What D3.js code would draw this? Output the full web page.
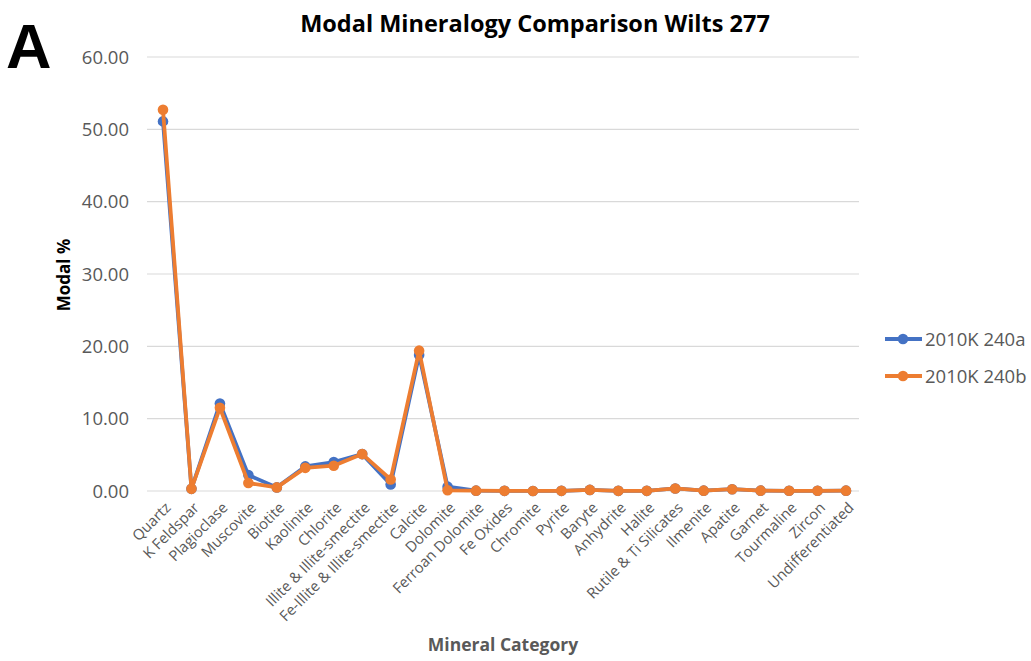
<!DOCTYPE html>
<html>
<head>
<meta charset="utf-8">
<script src="https://cdn.jsdelivr.net/npm/d3@7"></script>
<style>
  html, body { margin: 0; padding: 0; background: #fff; }
  svg { display: block; }
</style>
</head>
<body>
<svg id="chart" width="1031" height="661"></svg>
<script>
const categories = [
  "Quartz", "K Feldspar", "Plagioclase", "Muscovite", "Biotite", "Kaolinite",
  "Chlorite", "Illite & Illite-smectite", "Fe-Illite & Illite-smectite", "Calcite",
  "Dolomite", "Ferroan Dolomite", "Fe Oxides", "Chromite", "Pyrite", "Baryte",
  "Anhydrite", "Halite", "Rutile & Ti Silicates", "Ilmenite", "Apatite", "Garnet",
  "Tourmaline", "Zircon", "Undifferentiated"
];
const sample240a = [51.1, 0.3, 12.1, 2.2, 0.5, 3.4, 4.0, 5.1, 0.9, 18.8,
  0.6, 0.05, 0.02, 0.01, 0.02, 0.15, 0.02, 0.02, 0.35, 0.05, 0.25, 0.05, 0.03, 0.03, 0.05];
const sample240b = [52.7, 0.3, 11.5, 1.1, 0.5, 3.2, 3.5, 5.1, 1.6, 19.4,
  0.1, 0.05, 0.02, 0.01, 0.02, 0.15, 0.02, 0.02, 0.35, 0.05, 0.25, 0.05, 0.03, 0.03, 0.05];
const yTicks = [0, 10, 20, 30, 40, 50, 60];
const seriesNames = ["2010K 240a", "2010K 240b"];
const seriesColors = ["#4472C4", "#ED7D31"];

const svg = d3.select("#chart");
const font = "'Open Sans', 'DejaVu Sans', sans-serif";

const x = d3.scalePoint().domain(categories).range([163, 846]);
const y = d3.scaleLinear().domain([0, 60]).range([491, 57]);

// gridlines
svg.append("g").selectAll("line").data(yTicks).join("line")
  .attr("x1", 147).attr("x2", 859)
  .attr("y1", d => y(d)).attr("y2", d => y(d))
  .attr("stroke", "#d9d9d9").attr("stroke-width", 1.2);

// y axis labels
svg.append("g").selectAll("text").data(yTicks).join("text")
  .attr("x", 129).attr("y", d => y(d)).attr("dy", "0.36em")
  .attr("text-anchor", "end")
  .attr("font-family", font).attr("font-size", 18.5).attr("fill", "#595959")
  .text(d => d3.format(".2f")(d));

// x axis labels, rotated
svg.append("g").selectAll("text").data(categories).join("text")
  .attr("transform", d => `translate(${x(d) + 5},${505}) rotate(-45)`)
  .attr("text-anchor", "end").attr("dy", "0.35em")
  .attr("font-family", font).attr("font-size", 14.8).attr("fill", "#595959")
  .text(d => d);

// series
const series = [sample240a, sample240b];
const line = d3.line().x((d, i) => x(categories[i])).y(d => y(d));
series.forEach((vals, s) => {
  const g = svg.append("g");
  g.append("path").datum(vals)
    .attr("d", line).attr("fill", "none")
    .attr("stroke", seriesColors[s]).attr("stroke-width", 3.8)
    .attr("stroke-linejoin", "round");
  g.selectAll("circle").data(vals).join("circle")
    .attr("cx", (d, i) => x(categories[i])).attr("cy", d => y(d))
    .attr("r", 5.3).attr("fill", seriesColors[s]);
});

// legend
seriesNames.forEach((name, s) => {
  const ly = 339 + s * 37;
  svg.append("line").attr("x1", 885).attr("x2", 922).attr("y1", ly).attr("y2", ly)
    .attr("stroke", seriesColors[s]).attr("stroke-width", 3.8);
  svg.append("circle").attr("cx", 903).attr("cy", ly).attr("r", 5.3).attr("fill", seriesColors[s]);
  svg.append("text").attr("x", 925).attr("y", ly).attr("dy", "0.36em")
    .attr("font-family", font).attr("font-size", 18.5).attr("fill", "#595959")
    .text(name);
});

// titles
svg.append("text").attr("x", 535).attr("y", 32).attr("text-anchor", "middle")
  .attr("font-family", font).attr("font-weight", "bold").attr("font-size", 23.5)
  .attr("fill", "#000").text("Modal Mineralogy Comparison Wilts 277");

svg.append("text").attr("x", 6).attr("y", 68)
  .attr("font-family", "'Liberation Sans', Arial, sans-serif").attr("font-weight", "bold")
  .attr("font-size", 63).attr("fill", "#000").text("A");

svg.append("text").attr("transform", "translate(70,275) rotate(-90)")
  .attr("text-anchor", "middle")
  .attr("font-family", font).attr("font-weight", "bold").attr("font-size", 17)
  .attr("fill", "#000").text("Modal %");

svg.append("text").attr("x", 503).attr("y", 651).attr("text-anchor", "middle")
  .attr("font-family", font).attr("font-weight", "bold").attr("font-size", 17.5)
  .attr("fill", "#595959").text("Mineral Category");
</script>
</body>
</html>
